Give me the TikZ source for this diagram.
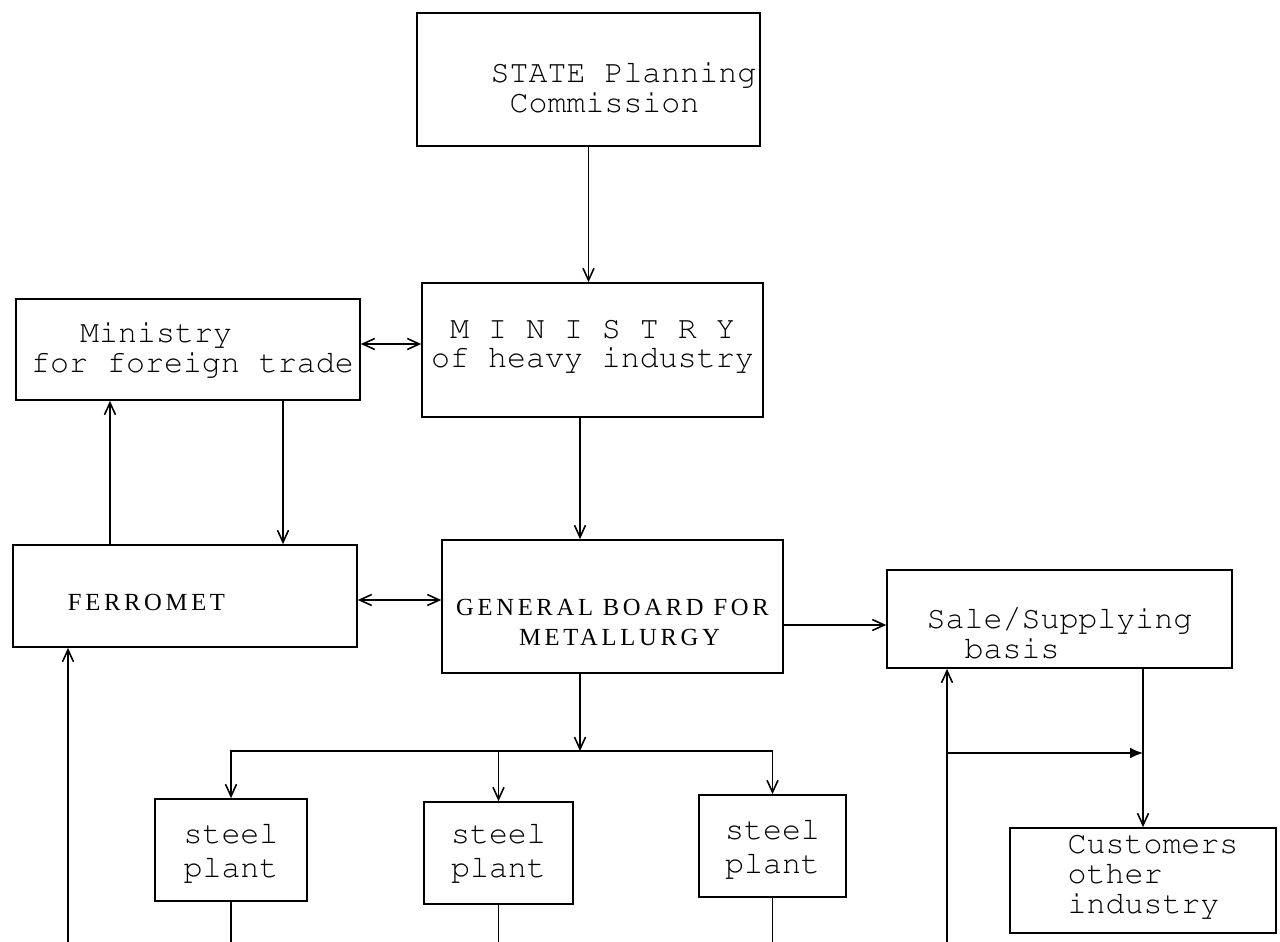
\documentclass[tikz,border=0pt]{standalone}
\usepackage[T1,TU]{fontenc}
\usepackage{fontspec}
\usetikzlibrary{arrows.meta}
\newfontfamily\boardfont[LetterSpace=15]{Liberation Serif}
\newcommand{\typewriter}{\fontencoding{T1}\fontfamily{pcr}\fontseries{m}\fontshape{n}\fontsize{18pt}{17pt}\selectfont}
\tikzset{
  >={Straight Barb[length=2.4mm,width=2.2mm]},
  orgbox/.style={draw=black,line width=1pt,inner sep=0pt},
  boxtext/.style={font=\typewriter,inner sep=0pt,align=left},
  boardtext/.style={font={\boardfont\fontsize{14pt}{17pt}\selectfont},inner sep=0pt,align=center},
  flow/.style={->,line width=0.9pt},
  flowboth/.style={<->,line width=0.9pt},
  feed/.style={-{Latex[length=2.6mm,width=2.2mm]},line width=0.9pt},
  plain/.style={line width=0.9pt},
}
\begin{document}
\begin{tikzpicture}[x=0.02cm,y=-0.02cm]
  \useasboundingbox (0,0) rectangle (1280,942);
  % boxes
  \node[orgbox,minimum width=6.86cm,minimum height=2.66cm,
    label={[boxtext,name=state-text,xshift=0.7cm,yshift=-0.16cm]center:{STATE Planning\\~Commission}}]
    (state) at (588.5,79.5) {};
  \node[orgbox,minimum width=6.88cm,minimum height=2.02cm,
    label={[boxtext,name=foreign-text,xshift=0.09cm]center:{\hspace*{0.98cm}Ministry\\for foreign trade}}]
    (foreign) at (188,349.5) {};
  \node[orgbox,minimum width=6.82cm,minimum height=2.68cm,
    label={[boxtext,align=center,name=heavy-text,yshift=0.08cm]center:{M I N I S T R Y\\of heavy industry}}]
    (heavy) at (592.5,350) {};
  \node[orgbox,minimum width=6.88cm,minimum height=2.04cm,
    label={[boardtext,name=ferromet-text,xshift=-0.77cm,yshift=-0.12cm]center:{FERROMET}}]
    (ferromet) at (185,596) {};
  \node[orgbox,minimum width=6.82cm,minimum height=2.66cm,
    label={[boardtext,name=gb-text,yshift=-0.32cm]center:{GENERAL BOARD FOR\\\hspace*{0.28cm}METALLURGY}}]
    (gb) at (612.5,606.5) {};
  \node[orgbox,minimum width=6.90cm,minimum height=1.96cm,
    label={[boxtext,name=sale-text,yshift=-0.3cm]center:{Sale/Supplying\\~~basis}}]
    (sale) at (1059.5,619) {};
  \node[orgbox,minimum width=3.04cm,minimum height=2.04cm,
    label={[boxtext,name=steel1-text,yshift=-0.06cm]center:{steel\\[2pt]plant}}]
    (steel1) at (231,850) {};
  \node[orgbox,minimum width=2.98cm,minimum height=2.04cm,
    label={[boxtext,name=steel2-text]center:{steel\\[2pt]plant}}]
    (steel2) at (498.5,853) {};
  \node[orgbox,minimum width=2.94cm,minimum height=2.04cm,
    label={[boxtext,name=steel3-text,yshift=-0.06cm]center:{steel\\[2pt]plant}}]
    (steel3) at (772.5,846) {};
  \node[orgbox,minimum width=5.32cm,minimum height=2.10cm,
    label={[boxtext,name=customers-text,xshift=0.2cm,yshift=0.08cm]center:{Customers\\other\\industry}}]
    (customers) at (1143,880.5) {};
  % helper coordinates
  \coordinate (spine) at (580,0);
  \coordinate (ftup) at (110,0);
  \coordinate (ftdown) at (283,0);
  \coordinate (mintrade) at (0,344);
  \coordinate (trade) at (0,600);
  \coordinate (supply) at (0,625);
  \coordinate (bus) at (0,751);
  \coordinate (branch) at (0,753);
  \coordinate (bottom) at (0,942);
  \coordinate (retleft) at (68,942);
  \coordinate (retright) at (947,942);
  % connectors
  \draw[flow] (state.south) -- (state.south |- heavy.north);
  \draw[flowboth] (foreign.east |- mintrade) -- (heavy.west |- mintrade);
  \draw[flow] (heavy.south -| spine) -- (gb.north -| spine);
  \draw[flow] (ferromet.north -| ftup) -- (foreign.south -| ftup);
  \draw[flow] (foreign.south -| ftdown) -- (ferromet.north -| ftdown);
  \draw[flowboth] (ferromet.east |- trade) -- (gb.west |- trade);
  \draw[flow] (gb.east |- supply) -- (sale.west |- supply);
  \draw[flow] (gb.south -| spine) -- (spine |- bus);
  \draw[flow] (spine |- bus) -| (steel1.north);
  \draw[flow] (spine |- bus) -| (steel3.north);
  \draw[flow] (steel2.north |- bus) -- (steel2.north);
  \foreach \p in {steel1,steel2,steel3}
    \draw[plain] (\p.south) -- (\p.south |- bottom);
  \draw[flow] (retleft) -- (retleft |- ferromet.south);
  \draw[flow] (retright) -- (retright |- sale.south);
  \draw[feed] (retright |- branch) -- (customers.north |- branch);
  \draw[flow] (customers.north |- sale.south) -- (customers.north);
\end{tikzpicture}
\end{document}
